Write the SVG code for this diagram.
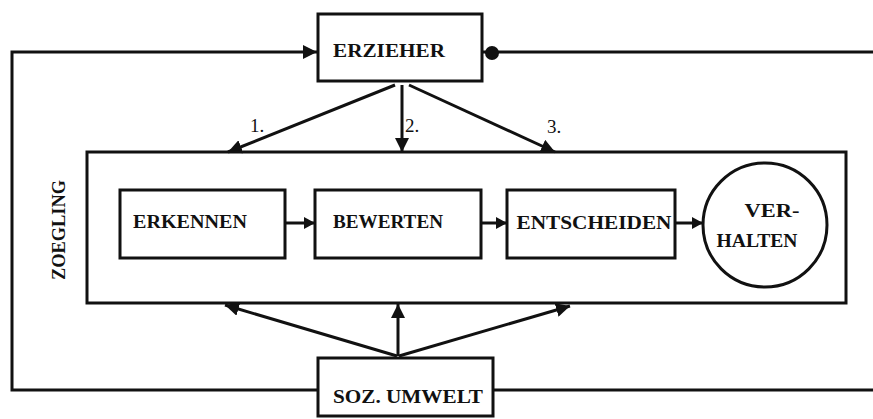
<svg xmlns="http://www.w3.org/2000/svg" width="873" height="419" viewBox="0 0 873 419">
<style>
.box{fill:#fff;stroke:#111;stroke-width:3}
.ln{fill:none;stroke:#111;stroke-width:3}
.t{font-family:"Liberation Serif","Times New Roman",serif;font-weight:bold;font-size:18px;fill:#111;text-anchor:middle}
.n{font-family:"Liberation Serif","Times New Roman",serif;font-size:19px;fill:#111}
</style>
<defs>
<marker id="ah" markerUnits="userSpaceOnUse" markerWidth="16" markerHeight="14" refX="14" refY="7" orient="auto">
<path d="M0,0 L14,7 L0,14 Z" fill="#111"/>
</marker>
<marker id="as" markerUnits="userSpaceOnUse" markerWidth="12" markerHeight="12" refX="11" refY="6" orient="auto">
<path d="M0,0 L11,6 L0,12 Z" fill="#111"/>
</marker>
</defs>
<rect width="873" height="419" fill="#fff"/>
<g id="connectors">
<path class="ln" d="M318,390 H12 V52 H317" marker-end="url(#ah)"/>
<path class="ln" d="M482,52 H873"/>
<circle cx="492" cy="53" r="7" fill="#111"/>
<path class="ln" d="M493,390 H873"/>
<path class="ln" d="M395,85 L228,152" marker-end="url(#ah)"/>
<path class="ln" d="M402,85 L402,152" marker-end="url(#ah)"/>
<path class="ln" d="M409,85 L555,152" marker-end="url(#ah)"/>
<path class="ln" d="M397,356 L225,305" marker-end="url(#ah)"/>
<path class="ln" d="M398,356 L398,304" marker-end="url(#ah)"/>
<path class="ln" d="M399,356 L570,306" marker-end="url(#ah)"/>
<path class="ln" d="M285,223 H315" marker-end="url(#as)"/>
<path class="ln" d="M481,223 H507" marker-end="url(#as)"/>
<path class="ln" d="M675,223 H703" marker-end="url(#as)"/>
<text class="n" x="250" y="132">1.</text>
<text class="n" x="405" y="132">2.</text>
<text class="n" x="547" y="133">3.</text>
</g>
<g id="erzieher">
<rect class="box" x="318" y="14" width="164" height="67"/>
<text class="t" x="389" y="57" textLength="112" lengthAdjust="spacingAndGlyphs">ERZIEHER</text>
</g>
<g id="zoegling">
<rect class="box" x="87" y="152" width="759" height="151" style="fill:none"/>
<text class="t" transform="translate(65,230) rotate(-90)" textLength="100" lengthAdjust="spacingAndGlyphs">ZOEGLING</text>
</g>
<g id="erkennen">
<rect class="box" x="120" y="190" width="165" height="68"/>
<text class="t" x="190" y="228" textLength="114" lengthAdjust="spacingAndGlyphs">ERKENNEN</text>
</g>
<g id="bewerten">
<rect class="box" x="315" y="190" width="166" height="68"/>
<text class="t" x="388" y="228" textLength="110" lengthAdjust="spacingAndGlyphs">BEWERTEN</text>
</g>
<g id="entscheiden">
<rect class="box" x="507" y="190" width="168" height="68"/>
<text class="t" x="594" y="229" textLength="155" lengthAdjust="spacingAndGlyphs">ENTSCHEIDEN</text>
</g>
<g id="verhalten">
<circle class="box" cx="765" cy="225" r="62"/>
<text class="t" x="772" y="217" textLength="55" lengthAdjust="spacingAndGlyphs">VER-</text>
<text class="t" x="757" y="247" textLength="81" lengthAdjust="spacingAndGlyphs">HALTEN</text>
</g>
<g id="soz-umwelt">
<rect class="box" x="318" y="358" width="175" height="58"/>
<text class="t" x="408" y="403" textLength="150" lengthAdjust="spacingAndGlyphs">SOZ. UMWELT</text>
</g>
</svg>
